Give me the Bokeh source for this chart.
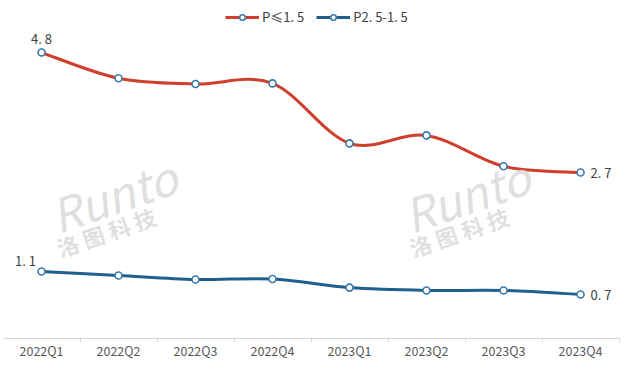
from bokeh.plotting import figure
from bokeh.models import Range1d, FixedTicker, Legend, LegendItem, ColumnDataSource, Label
from bokeh.embed import file_html
from bokeh.resources import INLINE
from bokeh.core.properties import value

# ---- data ----
quarters = ["2022Q1", "2022Q2", "2022Q3", "2022Q4", "2023Q1", "2023Q2", "2023Q3", "2023Q4"]
p_small = [4.8, 4.35, 4.25, 4.26, 3.21, 3.35, 2.81, 2.7]      # P≤1.5
p_mid = [1.1, 1.03, 0.96, 0.97, 0.82, 0.77, 0.77, 0.7]        # P2.5-1.5
series_names = ["P≤1. 5", "P2. 5-1. 5"]
label_idx = [0, 7]

# ---- styles ----
RED = "#cf3f2b"
BLUE = "#1f5f8b"
MARK = "#3a78ad"
FONT = "Noto Sans CJK SC"


def fmt(v):
    return f"{v:.1f}".replace(".", ". ")


def smooth(xs, ys):
    n = len(xs)
    d = dict(x0=[], y0=[], x1=[], y1=[], cx0=[], cy0=[], cx1=[], cy1=[])
    for i in range(n - 1):
        pm = i - 1 if i > 0 else i
        pp = i + 2 if i + 2 < n else i + 1
        d["x0"].append(xs[i]); d["y0"].append(ys[i])
        d["x1"].append(xs[i + 1]); d["y1"].append(ys[i + 1])
        d["cx0"].append(xs[i] + (xs[i + 1] - xs[pm]) / 6)
        d["cy0"].append(ys[i] + (ys[i + 1] - ys[pm]) / 6)
        d["cx1"].append(xs[i + 1] - (xs[pp] - xs[i]) / 6)
        d["cy1"].append(ys[i + 1] - (ys[pp] - ys[i]) / 6)
    return ColumnDataSource(d)


xs = list(range(len(quarters)))

p = figure(frame_width=616, frame_height=338,
           x_range=Range1d(-0.4935, 7.506),
           y_range=Range1d(-0.0652, 5.813),
           output_backend="svg", toolbar_location=None,
           y_axis_location=None,
           min_border_left=3, min_border_right=2,
           min_border_top=0, min_border_bottom=0)
p.extra_y_ranges = {"red": Range1d(-0.2048, 5.711)}
p.outline_line_color = None
p.xgrid.visible = False
p.ygrid.visible = False
p.background_fill_color = "white"

ax = p.xaxis[0]
ax.ticker = FixedTicker(ticks=xs, minor_ticks=[i - 0.5 for i in range(len(quarters) + 1)])
ax.major_label_overrides = {i: q for i, q in enumerate(quarters)}
ax.major_tick_line_color = None
ax.major_tick_out = 0
ax.major_tick_in = 0
ax.minor_tick_line_color = "#d9d9d9"
ax.minor_tick_in = 0
ax.minor_tick_out = 4
ax.axis_line_color = "#d9d9d9"
ax.major_label_text_color = "#595959"
ax.major_label_text_font = FONT
ax.major_label_text_font_size = "12.5px"
ax.major_label_text_line_height = 1.0
ax.major_label_standoff = -2

# watermarks
for dx in (0, 353):
    p.add_layout(Label(x=59 + dx, y=92, x_units="screen", y_units="screen", text="Runto",
                       angle=0.33, text_font=FONT, text_font_style="italic",
                       text_font_size="46px", text_color="#dadada", text_alpha=0.85))
    p.add_layout(Label(x=59 + dx, y=75, x_units="screen", y_units="screen", text="洛 图 科 技",
                       angle=0.33, text_font=FONT, text_font_style="bold",
                       text_font_size="22px", text_color="#dadada", text_alpha=0.85))

# red series
src_r = smooth(xs, p_small)
p.bezier(x0="x0", y0="y0", x1="x1", y1="y1", cx0="cx0", cy0="cy0", cx1="cx1", cy1="cy1",
         source=src_r, line_color=RED, line_width=3, y_range_name="red")
# single-point line: draws nothing on the plot, only supplies the legend's line glyph
lg_r = p.line(x=xs[:1], y=p_small[:1], line_color=RED, line_width=3, y_range_name="red")
sc_r = p.scatter(xs, p_small, size=7, fill_color="white", line_color=MARK, line_width=1.6,
                 y_range_name="red")

# blue series
src_b = smooth(xs, p_mid)
p.bezier(x0="x0", y0="y0", x1="x1", y1="y1", cx0="cx0", cy0="cy0", cx1="cx1", cy1="cy1",
         source=src_b, line_color=BLUE, line_width=3)
lg_b = p.line(x=xs[:1], y=p_mid[:1], line_color=BLUE, line_width=3)
sc_b = p.scatter(xs, p_mid, size=7, fill_color="white", line_color=MARK, line_width=1.6)

# data labels
lab_r = ColumnDataSource(dict(x=[xs[i] for i in label_idx], y=[p_small[i] for i in label_idx],
                              t=[fmt(p_small[i]) for i in label_idx],
                              dx=[0, 10], dy=[-14, 0], al=["center", "left"]))
p.text(x="x", y="y", text="t", x_offset="dx", y_offset="dy", text_align="al", source=lab_r,
       text_baseline="middle", text_font=value(FONT), text_font_size="13px",
       text_color="#404040", y_range_name="red")
lab_b = ColumnDataSource(dict(x=[xs[i] for i in label_idx], y=[p_mid[i] for i in label_idx],
                              t=[fmt(p_mid[i]) for i in label_idx],
                              dx=[-16, 10], dy=[-11, 0], al=["center", "left"]))
p.text(x="x", y="y", text="t", x_offset="dx", y_offset="dy", text_align="al", source=lab_b,
       text_baseline="middle", text_font=value(FONT), text_font_size="13px",
       text_color="#404040")

legend = Legend(items=[LegendItem(label=series_names[0], renderers=[lg_r, sc_r]),
                       LegendItem(label=series_names[1], renderers=[lg_b, sc_b])],
                location=(222, 312), orientation="horizontal",
                glyph_width=34, glyph_height=14, label_standoff=3, spacing=12,
                padding=0, margin=0, border_line_color=None, background_fill_alpha=0,
                label_text_font=FONT, label_text_font_size="13px", label_text_color="#404040")
p.add_layout(legend)

open("out.html", "w").write(file_html(p, INLINE))
